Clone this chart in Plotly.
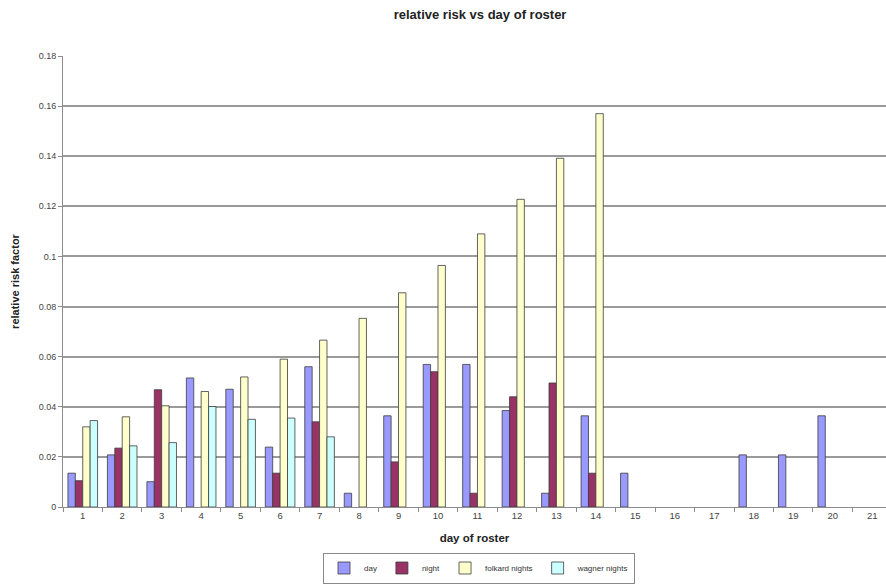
import plotly.graph_objects as go

# Relative risk by day of roster, four series per day
days = [str(d) for d in range(1, 22)]

day = [0.0135, 0.0208, 0.0101, 0.0515, 0.047, 0.0239, 0.056, 0.0055, 0.0364, 0.0569,
       0.0569, 0.0385, 0.0055, 0.0364, 0.0135, None, None, 0.0208, 0.0208, 0.0364, None]
night = [0.0105, 0.0235, 0.0468, None, None, 0.0135, 0.034, None, 0.018, 0.054,
         0.0055, 0.044, 0.0495, 0.0135, None, None, None, None, None, None, None]
folkard_nights = [0.032, 0.036, 0.0404, 0.0461, 0.0519, 0.059, 0.0666, 0.0753, 0.0855, 0.0964,
                  0.109, 0.1228, 0.1392, 0.157, None, None, None, None, None, None, None]
wagner_nights = [0.0345, 0.0244, 0.0257, 0.0401, 0.035, 0.0355, 0.028, None, None, None,
                 None, None, None, None, None, None, None, None, None, None, None]

series = [
    ("day", day, "#9999FF"),
    ("night", night, "#993366"),
    ("folkard nights", folkard_nights, "#FFFFCC"),
    ("wagner nights", wagner_nights, "#CCFFFF"),
]

FONT = "Arial, 'Liberation Sans', sans-serif"

fig = go.Figure()
for name, vals, color in series:
    fig.add_trace(go.Bar(
        x=days, y=vals, name=name,
        marker=dict(color=color, line=dict(color="#3c3c3c", width=0.8)),
    ))

W, H = 886, 586
L, T, B = 63, 56, 79

fig.update_layout(
    width=W, height=H,
    margin=dict(l=L, r=0, t=T, b=B, autoexpand=False),
    paper_bgcolor="white", plot_bgcolor="white",
    barmode="group", bargap=0.25, bargroupgap=0,
    font=dict(family=FONT, color="#333"),
    title=dict(
        text="<b>relative risk vs day of roster</b>",
        x=449 / W, xanchor="center", xref="paper",
        y=1 - 14 / H, yanchor="middle", yref="container",
        font=dict(size=13, color="#222", family=FONT),
    ),
    showlegend=True,
    legend=dict(
        orientation="h",
        x=(479 - L) / (W - L), xanchor="center",
        y=-(568 - (H - B)) / (H - B - T), yanchor="middle",
        bordercolor="#8a8a8a", borderwidth=1,
        font=dict(size=8, color="#333", family=FONT),
        itemwidth=30, tracegroupgap=0,
        bgcolor="white",
    ),
)

fig.update_xaxes(
    type="category",
    range=[-0.5, 20.35],
    showgrid=False,
    showline=True, linecolor="#8c8c8c", linewidth=1,
    ticks="outside", tickson="boundaries", ticklen=4, tickcolor="#8c8c8c",
    tickfont=dict(size=9.5, color="#444", family=FONT),
    title=dict(text="<b>day of roster</b>", font=dict(size=11.5, color="#222", family=FONT),
               standoff=13),
    automargin=False,
)

fig.update_yaxes(
    range=[0, 0.18],
    tickvals=[0, 0.02, 0.04, 0.06, 0.08, 0.1, 0.12, 0.14, 0.16, 0.18],
    ticktext=["0", "0.02", "0.04", "0.06", "0.08", "0.1", "0.12", "0.14", "0.16", "0.18"],
    showgrid=True, gridcolor="#9a9a9a", gridwidth=1.5,
    showline=True, linecolor="#8c8c8c", linewidth=1,
    zeroline=False,
    ticks="outside", ticklen=4, tickcolor="#8c8c8c",
    tickfont=dict(size=9, color="#444", family=FONT),
    title=dict(text="<b>relative risk factor</b>", font=dict(size=11, color="#222", family=FONT),
               standoff=16),
    automargin=False,
)

fig.write_html("out.html")
